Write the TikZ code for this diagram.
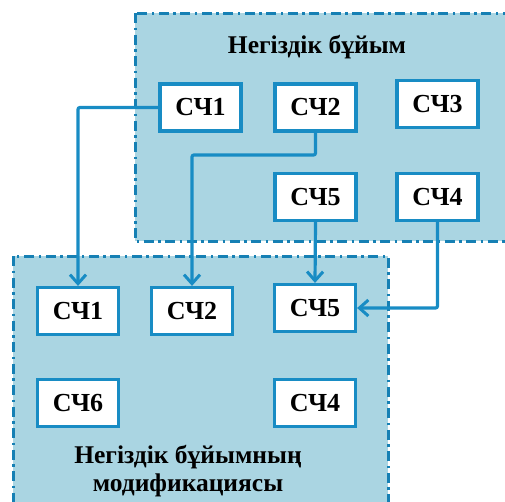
\documentclass[tikz,border=0pt]{standalone}
\usepackage{fontspec}
\setmainfont{Liberation Serif}
\usetikzlibrary{arrows.meta}
\definecolor{panelfill}{RGB}{170,213,226}
\definecolor{edgeblue}{RGB}{24,140,196}
\definecolor{frameblue}{RGB}{22,128,180}
\tikzset{
  panel/.style={fill=panelfill, draw=frameblue, line width=3pt,
    dash pattern=on 10pt off 4.5pt on 2.5pt off 4.5pt},
  part/.style={draw=edgeblue, fill=white, line width=3.2pt,
    minimum width=81pt, minimum height=47pt, inner sep=0pt,
    font=\fontsize{26}{26}\selectfont\bfseries},
  title/.style={font=\fontsize{25.5}{28}\selectfont\bfseries, align=center},
  link/.style={draw=edgeblue, line width=3.2pt, rounded corners=2pt},
  tip/.style={-{Straight Barb[length=9pt,width=16pt,line width=3pt]}}
}
\begin{document}
\begin{tikzpicture}[x=1pt,y=-1pt]
\useasboundingbox (0,0) rectangle (505,501);
\begin{scope}
\clip (0,0) rectangle (505,501);
% two panels
\path[panel] (135,13) rectangle (515,241);
\path[panel] (13,256) rectangle (388,515);
\end{scope}
\node[title] (topTitle) at (317,47) {Негіздік бұйым};
\node[title] (botTitle) at (188,471) {Негіздік бұйымның\\модификациясы};
% parts of the base product
\node[part] (a1) at (200.5,107.5) {СЧ1};
\node[part] (a2) at (315.5,107.5) {СЧ2};
\node[part] (a3) at (437.5,104) {СЧ3};
\node[part] (a5) at (315.5,197) {СЧ5};
\node[part] (a4) at (437.5,197) {СЧ4};
% parts of the modification
\node[part] (b1) at (78,311) {СЧ1};
\node[part] (b2) at (192,311) {СЧ2};
\node[part] (b5) at (315,308) {СЧ5};
\node[part] (b6) at (78,403) {СЧ6};
\node[part] (b4) at (315,403) {СЧ4};
% connectors
\draw[link,tip] (a1.west) -| (b1.north);
\draw[link,tip] (a2.south) |- (192,155) -- (b2.north);
\draw[link,tip] (a5.south) -- (b5.north);
\draw[link,tip] (a4.south) |- (b5.east);
\end{tikzpicture}
\end{document}
